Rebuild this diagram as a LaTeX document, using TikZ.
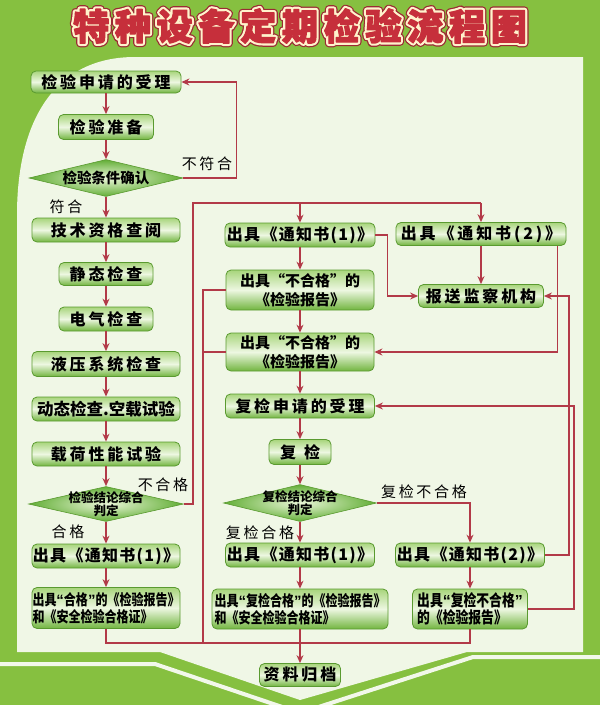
\documentclass[tikz,border=0pt]{standalone}
\usepackage{fontspec}
\usetikzlibrary{shapes.geometric,arrows.meta}
\newfontfamily\cjk{Noto Sans CJK SC}
\newfontfamily\cjkmid{Noto Sans CJK SC}[LetterSpace=8]
\newfontfamily\cjkwide{Noto Sans CJK SC}[LetterSpace=18]
\newfontfamily\cjknarrow{Noto Sans CJK SC}[FakeStretch=0.8]
\newfontfamily\titlefont{Noto Sans CJK SC}[LetterSpace=16]
\newfontfamily\latinfont{Liberation Sans}
\definecolor{bggreen}{HTML}{86C040}
\definecolor{panel}{HTML}{F0F7E6}
\definecolor{stripe}{HTML}{F2F8EA}
\definecolor{titlered}{HTML}{C62F3B}
\definecolor{titleedge}{HTML}{FFF3CC}
\definecolor{titledark}{HTML}{9A2A33}
\definecolor{linered}{HTML}{B23A48}
\definecolor{boxedge}{HTML}{5A9A30}
\definecolor{boxtop}{HTML}{A8D57C}
\definecolor{boxmid}{HTML}{EDF7E1}
\definecolor{boxbot}{HTML}{72B540}
\definecolor{dmid}{HTML}{EAF6D8}
\definecolor{dedge}{HTML}{62AE36}
% outlined text: fill and stroke the glyphs with the given width
\newcommand{\strokedtext}[2]{\special{pdf:literal direct 2 Tr #1 w 1 j}#2\special{pdf:literal direct 0 Tr}}
% narrow quotation marks
\newcommand{\quoted}[1]{{\latinfont“}#1{\latinfont”}}
\begin{document}
\begin{tikzpicture}[
    x=1pt, y=-1pt,
    stepbox/.style={draw=boxedge, line width=0.8pt, rounded corners=5pt,
        top color=boxtop, bottom color=boxbot, middle color=boxmid,
        inner sep=0pt, font=\cjkwide\bfseries\fontsize{16}{18}\selectfont},
    notebox/.style={stepbox, font=\cjkmid\bfseries\fontsize{16}{18}\selectfont},
    twoline/.style={stepbox, font=\cjk\bfseries\fontsize{15}{19}\selectfont, align=center},
    longbox/.style={stepbox, font=\cjknarrow\bfseries\fontsize{15}{17}\selectfont, align=left},
    decision/.style={diamond, draw=boxedge, line width=0.6pt, aspect=4,
        inner color=dmid, outer color=dedge, inner sep=0pt},
    dtext/.style={font=\cjk\bfseries\fontsize{14.5}{16}\selectfont, inner sep=0pt},
    dsmall/.style={font=\cjk\bfseries\fontsize{12.5}{11}\selectfont, align=center, inner sep=0pt},
    tag/.style={font=\cjkwide\fontsize{15}{17}\selectfont, inner sep=0pt},
    titletxt/.style={font=\titlefont\bfseries\fontsize{36}{40}\selectfont, inner sep=0pt},
    flow/.style={draw=linered, line width=1.2pt, -{Stealth[length=8pt,width=7pt]}},
    link/.style={draw=linered, line width=1.2pt}
]
\useasboundingbox (0,0) rectangle (600,705);

% background
\fill[bggreen] (0,0) rectangle (600,705);
\fill[panel] (17,652) -- (17,215) .. controls (17,120) and (55,57) .. (135,57)
    -- (583,57) -- (583,652) -- (467,652) -- (300,700) -- (160,652) -- cycle;
\draw[stripe, line width=4pt] (0,664) -- (155,664) -- (300,713) -- (473,657) -- (600,657);

% title, three layers
\node[titletxt, text=titledark] (titledk) at (300,26) {\strokedtext{8}{特种设备定期检验流程图}};
\node[titletxt, text=titleedge] (titlecr) at (300,26) {\strokedtext{5.5}{特种设备定期检验流程图}};
\node[titletxt, text=titlered] (title) at (300,26) {\strokedtext{1.2}{特种设备定期检验流程图}};

% left column
\node[stepbox, minimum width=150, minimum height=22] (apply) at (106,82) {检验申请的受理};
\node[stepbox, minimum width=95, minimum height=25] (prep) at (106,127) {检验准备};
\node[decision, minimum width=154, minimum height=37] (cond) at (106,178) {};
\node[dtext] (condt) at (cond) {检验条件确认};
\node[stepbox, minimum width=148, minimum height=24] (tech) at (106,230) {技术资格查阅};
\node[stepbox, minimum width=94, minimum height=23] (static) at (106,274) {静态检查};
\node[stepbox, minimum width=94, minimum height=24] (elec) at (106,319) {电气检查};
\node[stepbox, minimum width=148, minimum height=25] (hydr) at (106,364) {液压系统检查};
\node[stepbox, minimum width=148, minimum height=24,
    font=\cjk\bfseries\fontsize{16.5}{18}\selectfont] (dyn) at (106,409) {动态检查.空载试验};
\node[stepbox, minimum width=148, minimum height=24] (load) at (106,454) {载荷性能试验};
\node[decision, minimum width=155, minimum height=35] (judge) at (106,504) {};
\node[dsmall] (judget) at (judge) {检验结论综合\\判定};
\node[notebox, minimum width=148, minimum height=24] (note1) at (106,556) {出具《通知书(1)》};
\node[longbox, minimum width=148, minimum height=41] (pass) at (106,608) {出具\quoted{合格}的《检验报告》\\和《安全检验合格证》};

% middle column
\node[notebox, minimum width=150, minimum height=24] (mnote1) at (300,235) {出具《通知书(1)》};
\node[twoline, minimum width=148, minimum height=40] (fail1) at (300,290) {出具“不合格”的\\《检验报告》};
\node[twoline, minimum width=148, minimum height=38] (fail2) at (300,352) {出具“不合格”的\\《检验报告》};
\node[stepbox, minimum width=149, minimum height=24] (reapply) at (300,406) {复检申请的受理};
\node[stepbox, minimum width=62, minimum height=25] (recheck) at (300,452) {复\hspace{8pt}检};
\node[decision, minimum width=153, minimum height=37] (rejudge) at (300,503) {};
\node[dsmall] (rejudget) at (rejudge) {复检结论综合\\判定};
\node[notebox, minimum width=149, minimum height=24] (rnote1) at (300,555) {出具《通知书(1)》};
\node[longbox, minimum width=176, minimum height=40] (repass) at (300,609) {出具\quoted{复检合格}的《检验报告》\\和《安全检验合格证》};
\node[stepbox, minimum width=81, minimum height=23] (archive) at (300,675) {资料归档};

% right column
\node[stepbox, minimum width=170, minimum height=23] (mnote2) at (481,234) {出具《通知书(2)》};
\node[stepbox, minimum width=125, minimum height=23] (report) at (481,296) {报送监察机构};
\node[notebox, minimum width=149, minimum height=24] (rnote2) at (470,555) {出具《通知书(2)》};
\node[longbox, minimum width=115, minimum height=40,
    font=\cjknarrow\bfseries\fontsize{16}{17}\selectfont] (refail) at (470,609) {出具\quoted{复检不合格}\\的《检验报告》};

% branch labels
\node[tag] (nok) at (207,164) {不符合};
\node[tag] (ok) at (66,207) {符合};
\node[tag] (failtag) at (163,485) {不合格};
\node[tag] (passtag) at (68,532) {合格};
\node[tag] (refailtag) at (424,492) {复检不合格};
\node[tag] (repasstag) at (260,533) {复检合格};

% straight steps
\foreach \a/\b in {apply/prep, prep/cond, cond/tech, tech/static, static/elec,
    elec/hydr, hydr/dyn, dyn/load, load/judge, judge/note1, note1/pass,
    mnote1/fail1, fail1/fail2, fail2/reapply, reapply/recheck, recheck/rejudge,
    rejudge/rnote1, rnote1/repass, repass/archive, mnote2/report, rnote2/refail}
    \draw[flow] (\a.south) -- (\b.north);

% loops and branches
\draw[flow] (cond.east) -- ++(53,0) |- (apply.east);
\coordinate (fork) at (193,203);
\draw[link] (judge.east) -| (fork) -- (fork -| mnote2.north);
\draw[flow] (fork -| mnote1.north) -- (mnote1.north);
\draw[flow] (fork -| mnote2.north) -- (mnote2.north);
\draw[flow] (mnote1.east) -- ++(12,0) |- (report.west);
\draw[flow] ([xshift=-9pt]mnote2.south east) |- (fail2.east);
\draw[flow] (rejudge.east) -| (rnote2.north);
\draw[flow] (rnote2.east) -- ++(24,0) |- (report.east);
\draw[flow] (refail.east) -- ++(46,0) |- (reapply.east);

% to archive
\coordinate (vl) at (203,643);
\draw[link] (fail1.west) -| (vl);
\draw[link] (fail2.west) -- (fail2.west -| vl);
\draw[link] (pass.south) |- (vl) -- (vl -| refail.south) -- (refail.south);

\end{tikzpicture}
\end{document}
